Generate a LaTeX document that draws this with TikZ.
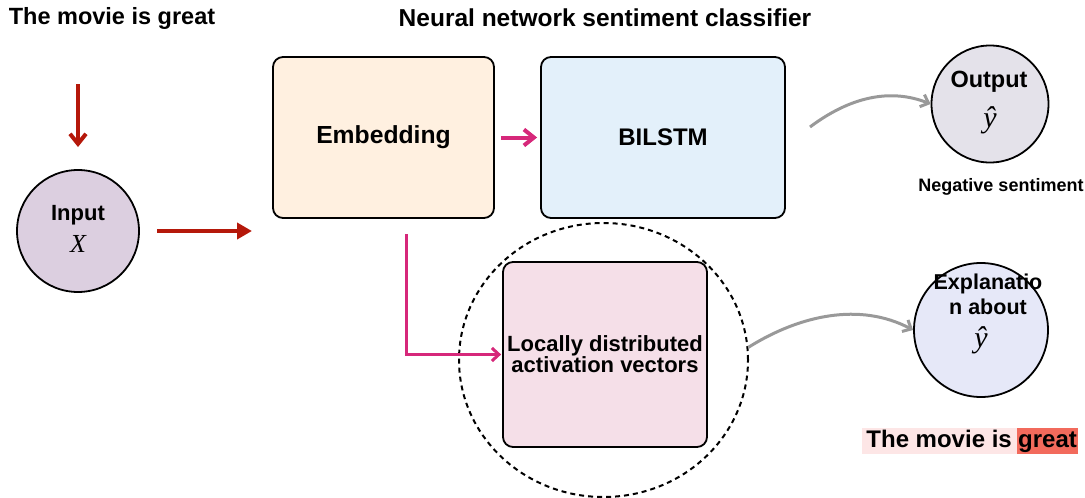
\documentclass[tikz,border=0pt]{standalone}
\usepackage{fontspec}
\setmainfont{Liberation Sans}
\newfontfamily\serifit{Liberation Serif}
\usetikzlibrary{arrows.meta,positioning,shapes.geometric}
\definecolor{inputfill}{HTML}{DCCFE0}
\definecolor{embfill}{HTML}{FFF0E0}
\definecolor{lstmfill}{HTML}{E3F0FA}
\definecolor{locfill}{HTML}{F5DFE8}
\definecolor{outfill}{HTML}{E4E2EA}
\definecolor{expfill}{HTML}{E6E8F8}
\definecolor{redarr}{HTML}{B5180A}
\definecolor{pinkarr}{HTML}{D6287A}
\definecolor{grayarr}{HTML}{999999}
\definecolor{hlpink}{HTML}{FDE6E6}
\definecolor{hlred}{HTML}{F26A5C}
\newcommand{\fs}[1]{\fontsize{#1}{#1}\selectfont\bfseries}
\newcommand{\varit}[1]{\fontsize{#1}{#1}\selectfont\serifit\itshape}
\begin{document}
\begin{tikzpicture}[x=1pt,y=-1pt,
  box/.style={draw=black, line width=1.8pt, rounded corners=10pt, inner sep=0pt, align=center},
  circ/.style={draw=black, line width=1.8pt, circle, inner sep=0pt, align=center},
  lbl/.style={inner sep=0pt, align=center},
  redline/.style={draw=redarr, line width=4pt},
  pinkline/.style={draw=pinkarr, line width=4pt},
  thinpink/.style={draw=pinkarr, line width=3pt},
  grayline/.style={draw=grayarr, line width=3pt},
  bigbarb/.style={-{Straight Barb[length=10pt,width=16pt]}},
  barb/.style={-{Straight Barb[length=7pt,width=13pt]}},
]
\useasboundingbox (0,0) rectangle (1085,498);

% titles
\node[lbl, font=\fs{23.5}] (t1) at (112,18) {The movie is great};
\node[lbl, font=\fs{24.5}] (t2) at (605,18) {Neural network sentiment classifier};

% main nodes
\node[circ, fill=inputfill, minimum size=122pt] (in) at (78,231) {};
\node[lbl, font=\fs{22}] (inlbl) at (78,215) {Input};
\node[lbl, font=\varit{26}] (inx) at (78,244) {X};

\node[box, fill=embfill, minimum width=221pt, minimum height=161pt, font=\fs{24.7}] (emb) at (383.5,137.5) {Embedding};
\node[box, fill=lstmfill, minimum width=244pt, minimum height=161pt, font=\fs{24}] (lstm) at (663,137.5) {BILSTM};

\node[draw=black, ellipse, inner sep=0pt, line width=2pt, dash pattern=on 5pt off 4pt, minimum width=289pt, minimum height=274pt] (dc) at (603.5,360) {};
\node[box, fill=locfill, minimum width=204pt, minimum height=185pt, font=\fs{22}] (loc) at (605,354.5) {Locally distributed\\[-1pt]activation vectors};

\node[circ, fill=outfill, minimum size=117pt] (out) at (990,104) {};
\node[lbl, font=\fs{23.5}] (outlbl) at (989,82) {Output};
\node[lbl, font=\varit{30}] (outy) at (990,120) {ŷ};
\node[lbl, font=\fs{18}] (neg) at (1001,187) {Negative sentiment};

\node[circ, fill=expfill, minimum size=134pt] (exp) at (981,330) {};
\node[lbl, font=\fs{21.5}] (explbl) at (988,294.5) {Explanatio\\[3pt]n about};
\node[lbl, font=\varit{30}] (expy) at (981,340) {ŷ};

% highlighted sentence
\node[lbl, fill=hlred, font=\fs{24}, inner xsep=1pt, text height=19pt, text depth=6.5pt, anchor=base west] (gr) at (1017,447) {great};
\node[lbl, fill=hlpink, font=\fs{24}, inner xsep=0pt, text height=19pt, text depth=6.5pt, anchor=base east] (tm) at (gr.base west) {\hspace{4pt}The movie is\hspace{5pt}};

% connectors
\coordinate (d0) at (78,84);
\coordinate (d1) at (78,147);
\draw[redline, bigbarb] (d0) -- (d1);
\coordinate (r0) at (157,231);
\coordinate (r1) at (252,231);
\draw[redline, -{Triangle[length=15pt,width=16pt]}] (r0) -- (r1);

\draw[pinkline, bigbarb, shorten <=6pt, shorten >=3pt] (emb.east) -- (lstm.west);
\coordinate (p0) at (406,234);
\draw[thinpink, barb, shorten >=1pt] (p0) |- (loc.west);

\coordinate (g0) at (810,127);
\draw[grayline, barb] (g0) .. controls (850,97) and (890,88) .. (out.west);
\draw[grayline, barb] (dc.5) .. controls (800,315) and (860,302) .. (exp.west);
\end{tikzpicture}
\end{document}
